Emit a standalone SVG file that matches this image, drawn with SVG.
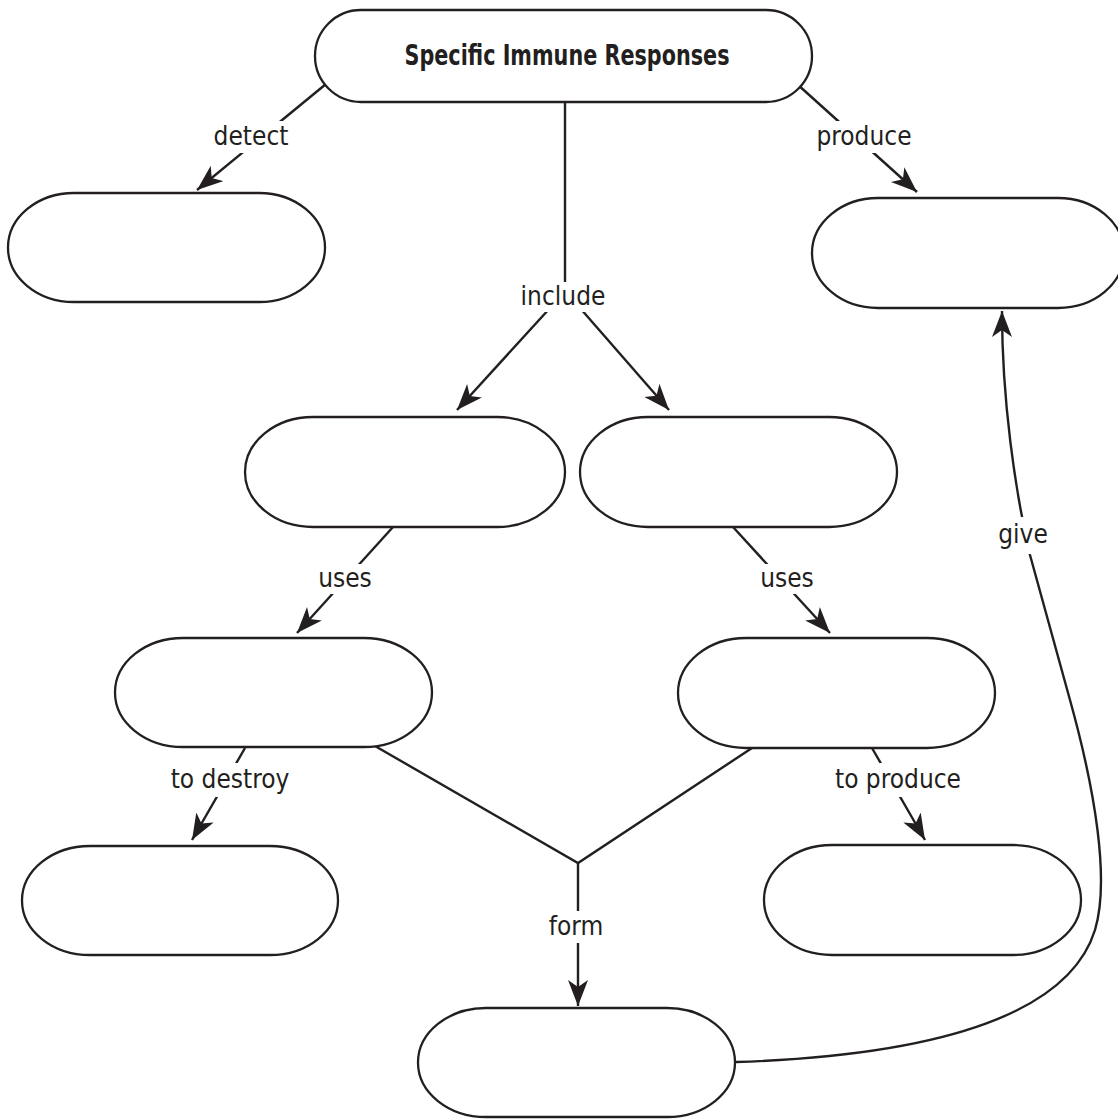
<svg xmlns="http://www.w3.org/2000/svg" width="1118" height="1120" viewBox="0 0 1118 1120">
<style>
.node{fill:#fff;stroke:#231f20;stroke-width:2.3}
.edge{fill:none;stroke:#231f20;stroke-width:2.4}
.lbl{font-family:"DejaVu Sans Condensed","Liberation Sans Narrow","Liberation Sans",sans-serif;font-stretch:condensed;font-size:26px;fill:#231f20;text-anchor:middle}
.title{font-family:"DejaVu Sans Condensed","Liberation Sans Narrow","Liberation Sans",sans-serif;font-stretch:condensed;font-weight:bold;font-size:29px;fill:#231f20;text-anchor:middle}
.bg{fill:#fff}
</style>
<defs>
<marker id="arr" markerUnits="userSpaceOnUse" markerWidth="28" markerHeight="22" refX="26" refY="10" orient="auto">
<path d="M0,0 L26,10 L0,20 L7,10 Z" fill="#231f20"/>
</marker>
</defs>
<g id="connectors">
<path class="edge" d="M326,84 L197,190" marker-end="url(#arr)"/>
<path class="edge" d="M797,84 L917,192" marker-end="url(#arr)"/>
<path class="edge" d="M565,102 L565,290"/>
<path class="edge" d="M550,308 L457,410" marker-end="url(#arr)"/>
<path class="edge" d="M580,308 L669,410" marker-end="url(#arr)"/>
<path class="edge" d="M393,527 L297,633" marker-end="url(#arr)"/>
<path class="edge" d="M733,527 L830,633" marker-end="url(#arr)"/>
<path class="edge" d="M245,748 L192,840" marker-end="url(#arr)"/>
<path class="edge" d="M872,748 L925,840" marker-end="url(#arr)"/>
<path class="edge" d="M375,746 L578,863 L752,748"/>
<path class="edge" d="M578,863 L578,1006" marker-end="url(#arr)"/>
<path class="edge" d="M736,1062 C950,1055 1070,1010 1095,930 C1110,880 1095,790 1070,700 L1030,555 C1015,490 1002,400 1002,311" marker-end="url(#arr)"/>
<g id="labels">
<rect class="bg" x="211" y="121" width="80" height="32"/>
<text class="lbl" x="251" y="145">detect</text>
<rect class="bg" x="814" y="121" width="100" height="32"/>
<text class="lbl" x="864" y="145">produce</text>
<rect class="bg" x="517" y="282" width="92" height="30"/>
<text class="lbl" x="563" y="305">include</text>
<rect class="bg" x="315" y="564" width="60" height="30"/>
<text class="lbl" x="345" y="587">uses</text>
<rect class="bg" x="757" y="564" width="60" height="30"/>
<text class="lbl" x="787" y="587">uses</text>
<rect class="bg" x="166" y="763" width="128" height="34"/>
<text class="lbl" x="230" y="788">to destroy</text>
<rect class="bg" x="830" y="763" width="136" height="34"/>
<text class="lbl" x="898" y="788">to produce</text>
<rect class="bg" x="546" y="911" width="60" height="32"/>
<text class="lbl" x="576" y="935">form</text>
<rect class="bg" x="996" y="517" width="54" height="37"/>
<text class="lbl" x="1023" y="543">give</text>
</g>
</g>
<g id="n-top"><rect class="node" x="315" y="10" width="497" height="92" rx="46"/><text class="title" x="567" y="65" textLength="325" lengthAdjust="spacingAndGlyphs">Specific Immune Responses</text></g>
<g id="n-detect"><rect class="node" x="8" y="193" width="317" height="109" rx="66" ry="54.5"/></g>
<g id="n-produce"><rect class="node" x="812" y="198" width="312" height="110" rx="66" ry="55"/></g>
<g id="n-include-left"><rect class="node" x="245" y="417" width="320" height="110" rx="68" ry="55"/></g>
<g id="n-include-right"><rect class="node" x="580" y="417" width="317" height="110" rx="68" ry="55"/></g>
<g id="n-uses-left"><rect class="node" x="115" y="638" width="317" height="109" rx="68" ry="54.5"/></g>
<g id="n-uses-right"><rect class="node" x="678" y="638" width="317" height="110" rx="68" ry="55"/></g>
<g id="n-destroy"><rect class="node" x="22" y="846" width="316" height="109" rx="68" ry="54.5"/></g>
<g id="n-toproduce"><rect class="node" x="764" y="845" width="317" height="110" rx="68" ry="55"/></g>
<g id="n-form"><rect class="node" x="418" y="1008" width="317" height="109" rx="68" ry="54.5"/></g>
</svg>
